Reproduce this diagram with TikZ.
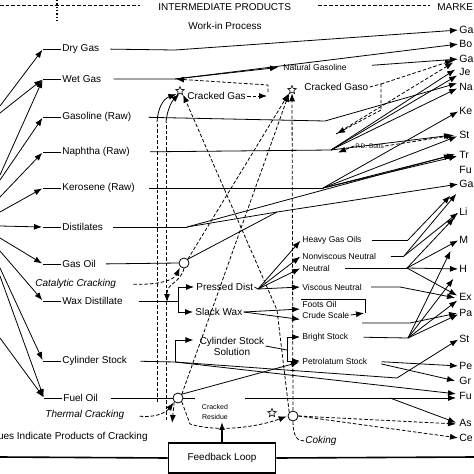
\documentclass[tikz,border=0pt]{standalone}
\usepackage{fontspec}
\setmainfont{Liberation Sans}
\usetikzlibrary{arrows.meta,positioning,shapes.geometric,calc}

\begin{document}
\begin{tikzpicture}[
    x=1pt, y=-1pt,
    line width=0.8pt,
    %
    lbl/.style={anchor=west, inner sep=1pt, font=\fontsize{10}{11}\selectfont},
    sub/.style={anchor=west, inner sep=1pt, font=\fontsize{8.5}{9}\selectfont},
    prod/.style={anchor=west, inner sep=0pt, font=\fontsize{10.5}{11}\selectfont},
    ring/.style={draw, circle, fill=white, inner sep=0pt, minimum size=10pt},
    cstar/.style={draw, star, star points=5, star point ratio=2.3, inner sep=0pt,
                  minimum size=9pt, line width=0.6pt},
    loopbox/.style={draw, rectangle, line width=1.6pt, minimum width=107pt,
                  minimum height=30pt, fill=white, font=\fontsize{10}{11}\selectfont},
    %
    feed/.style={-{Latex[length=8pt,width=6pt]}, shorten >=1pt},
    crack/.style={dash pattern=on 3.5pt off 2pt}
    ]
    \useasboundingbox (0,0) rectangle (474,474);

    % header
    \node[lbl] (inter) at (157,7) {INTERMEDIATE PRODUCTS};
    \node[lbl] (market) at (436,7) {MARKE};
    \node[lbl, anchor=center] (wip) at (225,26) {Work-in Process};
    \draw[crack] (0,5) -- (140,5);
    \draw[crack] (318,5) -- (430,5);
    \draw[dotted, line width=1.3pt] (57,0) -- (57,20);

    % crude fractions
    \node[lbl] (dry)    at (61,49)  {Dry Gas};
    \node[lbl] (wet)    at (61,79)  {Wet Gas};
    \node[lbl] (gasr)   at (61,117) {Gasoline (Raw)};
    \node[lbl] (naph)   at (61,152) {Naphtha (Raw)};
    \node[lbl] (kero)   at (61,188) {Kerosene (Raw)};
    \node[lbl] (dist)   at (61,227) {Distilates};
    \node[lbl] (gasoil) at (61,264) {Gas Oil};
    \node[lbl, font=\fontsize{10}{11}\selectfont\itshape] (catc) at (34,284) {Catalytic Cracking};
    \node[lbl] (wax)    at (61,301) {Wax Distillate};
    \node[lbl] (cyl)    at (61,361) {Cylinder Stock};
    \node[lbl] (fuel)   at (62,398) {Fuel Oil};
    \node[lbl, font=\fontsize{10}{11}\selectfont\itshape] (thermc) at (44,415) {Thermal Cracking};
    \node[lbl, anchor=east] (note) at (149,437) {ues Indicate Products of Cracking};

    % markets
    \foreach \n/\y/\t in {ga1/30/Ga, bo/44/Bo, ga2/59/Ga, je/72/Je, na/87/Na, ke/111/Ke,
        st1/135/St, tr/155/Tr, fu1/170/Fu, ga3/184/Ga, li/212/Li, mo/240/M, he/269/H,
        ex/297/Ex, pa/313/Pa, st2/339/St, pe/366/Pe, gr/381/Gr, fu2/396/Fu, as/423/As, ce/438/Ce}
        \node[prod] (\n) at (459,\y) {\t};

    % work-in process
    \node[cstar] (star1) at (180,91) {};
    \node[cstar] (star2) at (292,90) {};
    \node[cstar] (star3) at (272,413) {};
    \node[lbl] (cgas)   at (186,96) {Cracked Gas};
    \node[lbl] (cgaso)  at (303,87) {Cracked Gaso};
    \node[sub] (natg)   at (282,67) {Natural Gasoline};
    \node[sub, font=\fontsize{6.5}{7}\selectfont] (pdb) at (354,146) {P.D. Butts};
    \node[lbl] (pdist)  at (195,287) {Pressed Dist};
    \node[lbl] (swax)   at (194,312) {Slack Wax};
    \node[lbl, anchor=center, align=center] (css) at (232,346) {Cylinder Stock\\Solution};
    \node[sub] (hgo)    at (301,240) {Heavy Gas Oils};
    \node[sub] (nvn)    at (301,256) {Nonviscous Neutral};
    \node[sub] (neut)   at (301,268) {Neutral};
    \node[sub] (vn)     at (301,287) {Viscous Neutral};
    \node[sub] (foots)  at (301,304) {Foots Oil};
    \node[sub] (crude)  at (301,315) {Crude Scale};
    \node[sub] (bright) at (301,337) {Bright Stock};
    \node[sub] (petro)  at (301,361) {Petrolatum Stock};
    \node[sub, anchor=center, align=center, font=\fontsize{7}{10}\selectfont] (cres) at (215,412) {Cracked\\Residue};
    \node[lbl, font=\fontsize{10}{11}\selectfont\itshape] (coking) at (304,441) {Coking};
    \node[ring] (cat)   at (184,263) {};
    \node[ring] (therm) at (178,398) {};
    \node[ring] (coke)  at (293,416) {};
    \node[loopbox] (loop) at (222,458) {Feedback Loop};

    % junctions
    \coordinate (j-dry)   at (175,50);
    \coordinate (j-wet)   at (175,79);
    \coordinate (j-gasr)  at (325,121);
    \coordinate (j-naph)  at (331,150);
    \coordinate (j-kero)  at (323,188);
    \coordinate (j-dist)  at (187,227);
    \coordinate (j-merge) at (277,212);
    \coordinate (j-wax)   at (178,301);
    \coordinate (j-pd)    at (258,289);
    \coordinate (j-hgo)   at (408,240);
    \coordinate (j-nvn)   at (404,256);
    \coordinate (j-neut)  at (407,268);
    \coordinate (j-vn)    at (400,287);
    \coordinate (j-fo)    at (365,313);
    \coordinate (j-cs0)   at (362,323);
    \coordinate (j-cs)    at (410,323);
    \coordinate (j-br)    at (408,338);
    \coordinate (j-css)   at (287,350);
    \coordinate (j-cyl)   at (175,362);
    \coordinate (j-cyl2)  at (397,378);
    \coordinate (j-gap1)  at (195,398);
    \coordinate (j-gap2)  at (245,398);
    \coordinate (j-fuel)  at (390,398);
    \coordinate (j-cg)    at (268,96);
    \coordinate (j-cg2)   at (268,92);
    \coordinate (j-cgup)  at (268,85);
    \coordinate (j-cgtop) at (381,84);
    \coordinate (j-cgr)   at (381,110);
    \coordinate (j-cgl)   at (336,134);
    \coordinate (j-pdl)   at (337,153);
    \coordinate (j-catdn) at (167,303);
    \coordinate (j-kink)  at (277,310);
    \coordinate (j-res)   at (190,424);
    \coordinate (j-resdn) at (172,424);
    \coordinate (v1top)   at (157,122);
    \coordinate (v1bot)   at (157,402);
    \coordinate (v2top)   at (166,122);
    \coordinate (v2bot)   at (166,420);

    % crude feeds
    \foreach \n/\y in {1/106,2/113,3/175,4/180,5/197,6/212,7/226,8/238,9/251,10/268,11/276,12/338}
        \coordinate (crude\n) at (0,\y);
    \foreach \n in {dry,wet,gasr,naph,kero,dist,gasoil,wax,cyl,fuel} {
        \coordinate[left=18pt of \n.west] (\n-in);
        \draw (\n-in) -- (\n.west);
    }
    \foreach \s/\t in {1/dry,2/wet,3/wet,4/gasr,5/naph,6/kero,7/dist,8/gasoil,9/wax,10/cyl,11/fuel,12/fuel}
        \draw[feed] (crude\s) -- (\t-in);

    % straight-run products
    \draw[feed, shorten <=10pt] (dry.east) -- (j-dry) -- (ga1.west);
    \draw[feed, shorten <=11pt] (wet.east) -- (j-wet) -- (bo.west);
    \draw[feed, shorten >=4pt] (j-wet) -- (natg.west);
    \draw[feed, shorten <=24pt] (natg.east) -- (ga2.west);
    \draw[feed, shorten <=16pt] (gasr.east) -- (j-gasr) -- ($(na.west)+(-1,-4)$);
    \draw[shorten <=19pt] (naph.east) -- (j-naph);
    \foreach \t/\dx/\dy in {je/-3/-3, je/-1/3, na/-1/1, st1/-6/0}
        \draw[feed] (j-naph) -- ($(\t.west)+(\dx,\dy)$);
    \draw[shorten <=13pt] (kero.east) -- (j-kero);
    \foreach \t/\dx/\dy in {ke/0/0, st1/-1/1, tr/-6/0, tr/-1/1}
        \draw[feed] (j-kero) -- ($(\t.west)+(\dx,\dy)$);
    \draw[shorten <=9pt] (dist.east) -- (j-dist);
    \draw[feed] (j-dist) -- ($(tr.west)+(-3,-1)$);
    \draw[feed] (j-dist) -- (j-merge) -- (ga3.west);
    \draw[shorten <=9pt] (gasoil.east) -- (cat.west);
    \draw (cat.north east) -- (j-merge);
    \draw[feed, crack, shorten <=16pt] (catc.east) .. controls (170,285) and (176,276) .. (cat.south west);

    % wax and lubes
    \draw[shorten <=15pt] (wax.east) -- (j-wax);
    \draw (j-wax |- pdist.west) -- (j-wax |- swax.west);
    \draw[feed] (j-wax |- pdist.west) -- (pdist.west);
    \draw[feed] (j-wax |- swax.west) -- (swax.west);
    \draw (pdist.east) -- (j-pd);
    \foreach \t in {hgo, nvn, neut, vn}
        \draw[feed] (j-pd) -- (\t.west);
    \draw[feed] (swax.east) -- ($(foots.west)+(0,5)$);
    \draw[feed] (swax.east) -- (crude.south west);
    \draw (foots.north west) -| (j-fo);
    \draw[feed] (crude.east) -- (j-fo);
    \draw[feed] (j-cs0) -- (j-cs) -- ($(pa.west)+(-1,0)$);
    \draw[shorten <=9pt] (hgo.east) -- (j-hgo);
    \draw[feed] (j-hgo) -- ($(ga3.west)+(-8,11)$);
    \draw[shorten <=13pt] (nvn.east) -- (j-nvn);
    \draw[feed] (j-nvn) -- ($(ga3.west)+(-2,9)$);
    \draw[feed] (j-nvn) -- (li.west);
    \draw[shorten <=14pt] (neut.east) -- (j-neut);
    \foreach \t/\dx/\dy in {li/-4/5, mo/0/0, he/0/0, ex/-1/-1}
        \draw[feed] (j-neut) -- ($(\t.west)+(\dx,\dy)$);
    \draw[feed, shorten <=8pt] (vn.east) -- (j-vn) -- ($(ex.west)+(-3,1)$);
    \draw[shorten <=14pt] (bright.east) -- (j-br);
    \foreach \t/\dx/\dy in {pa/0/1, ex/-1/3, he/-5/9, mo/-8/10}
        \draw[feed] (j-br) -- ($(\t.west)+(\dx,\dy)$);

    % cylinder stock
    \draw[shorten <=12pt] (cyl.east) -- (j-cyl);
    \draw[feed] (j-cyl) |- ($(css.west)+(-4,-6)$);
    \draw[feed] (j-cyl) -- (j-cyl2) -- (st2.west);
    \draw[feed] (j-cyl) -- ($(fu2.west)+(-2,-2)$);
    \draw (css.east) -- (j-css);
    \draw (j-css |- bright.west) -- (j-css |- petro.west);
    \draw[feed] (j-css |- bright.west) -- (bright.west);
    \draw[feed] (j-css |- petro.west) -- (petro.west);
    \draw[feed, shorten <=13pt] (petro.east) -- (pe.west);
    \draw[feed, shorten <=13pt] (petro.east) -- ($(gr.west)+(-3,0)$);

    % fuel oil
    \draw[shorten <=12pt] (fuel.east) -- (therm.west);
    \draw (therm.east) -- (j-gap1);
    \draw (j-gap2) -- (j-fuel);
    \draw[feed] (j-fuel) -- ($(fu2.west)+(-2,2)$);
    \draw[feed] (j-fuel) -- ($(as.west)+(-2,0)$);
    \draw[feed, crack, shorten <=14pt] (thermc.east) .. controls (160,418) and (168,410) .. (therm.south west);
    \draw[feed] (therm.north east) -- ($(petro.west)+(-1,1)$);

    % cracking products
    \draw[crack] (v1bot) -- (v1top);
    \draw[crack] (v2bot) -- (v2top);
    \draw[feed] (v1top) .. controls (158,108) and (163,99) .. (star1.south west);
    \draw[feed] (v2top) .. controls (167,110) and (172,101) .. (star1.south);
    \draw[feed, crack] (cat.north east) -- (star2.south west);
    \draw[feed, crack] (therm.north east) -- (star2.south west);
    \draw[feed, crack] (coke.north) -- (star2.south);
    \draw[feed, crack] (coke.north west) -- (j-kink) -- (star1.south east);
    \draw[feed, crack] (cat.south) .. controls (180,284) and (167,282) .. (j-catdn);
    \draw[feed, crack] (therm.south west) -- (j-resdn);
    \draw[feed, crack] (therm.south east) -- (j-res) .. controls (215,432) and (255,428) .. (coke.west);
    \draw[feed, crack] (cgas.east) -- (j-cg);
    \draw[feed, crack] (j-cg2) -- (j-cgup) -- (j-wet);
    \draw[crack] (cgaso.east) -- (j-cgtop) -- (j-cgr);
    \draw[feed, crack] (j-cgr) -- (j-cgl);
    \draw[feed, crack] (j-cgtop) -- ($(ga2.west)+(-5,1)$);
    \draw[feed, crack] (j-cgl) -- ($(ga2.west)+(-5,3)$);
    \draw[feed, crack] (pdb.east) -- ($(st1.west)+(-4,0)$);
    \draw[feed, crack] (pdb.west) -- (j-pdl);
    \draw[feed, crack] (coke.east) -- ($(as.west)+(-2,1)$);
    \draw[feed, crack] (coke.east) -- (ce.west);
    \draw[crack] (coke.south) .. controls (293,436) and (297,441) .. (coking.west);

    % feedback
    \draw[line width=1.6pt] (0,457) -- (loop.west);
    \draw[line width=1.6pt] (loop.east) -- (474,457);
    \draw[feed, line width=1.4pt] (loop.north) -- (loop.north |- cres.south);
\end{tikzpicture}
\end{document}
